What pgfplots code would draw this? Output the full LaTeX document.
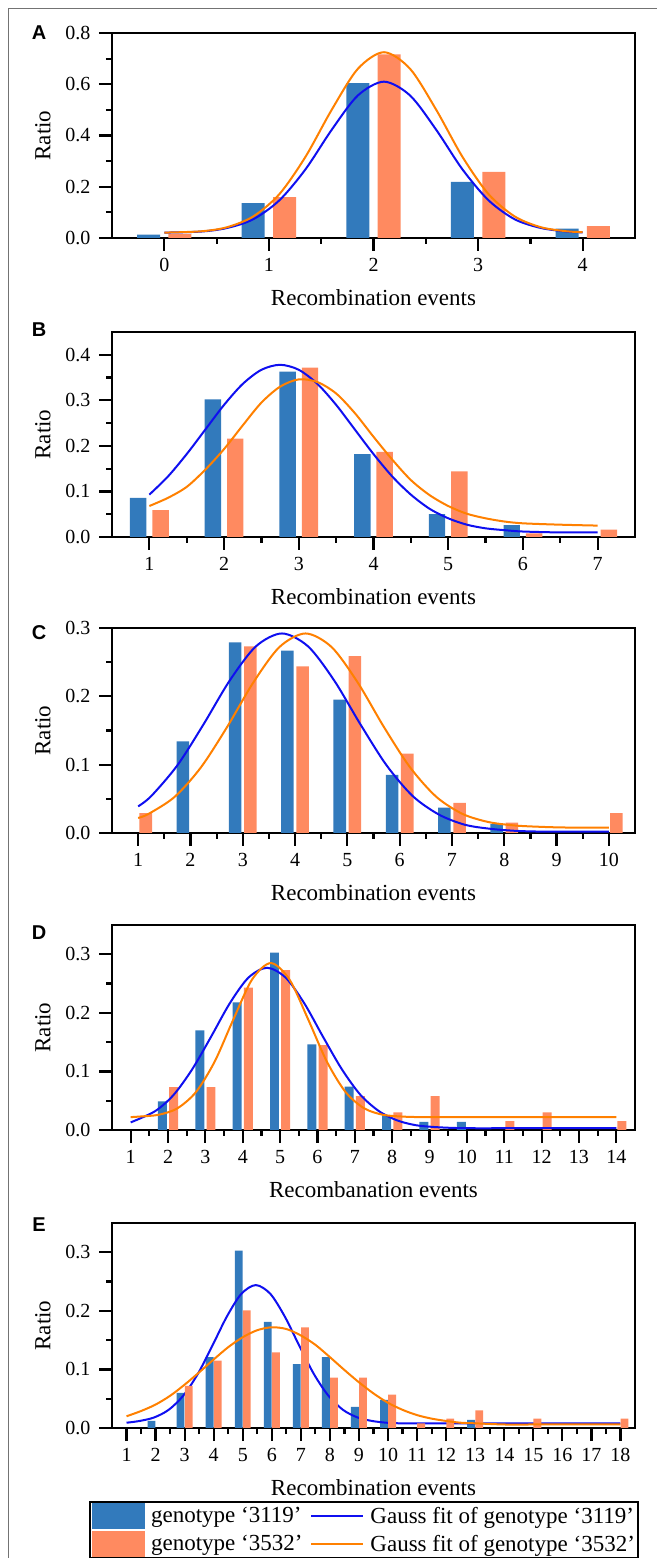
\documentclass[border=0pt]{standalone}
\usepackage{fontspec}
\setmainfont{Liberation Serif}
\newfontfamily\panelfont{Liberation Sans}
\usepackage{pgfplots}
\pgfplotsset{compat=1.18}

\definecolor{barblue}{RGB}{50,122,188}
\definecolor{barorange}{RGB}{255,138,96}
\definecolor{fitblue}{RGB}{15,15,240}
\definecolor{fitorange}{RGB}{255,128,0}

\pgfplotsset{
  panel/.style={
    scale only axis, width=523bp, height=205bp,
    anchor=south west,
    axis line style={line width=2.2bp},
    tick style={line width=2.2bp, black},
    tick align=outside, tick pos=left,
    major tick length=13bp, minor tick length=6bp,
    minor x tick num=1, minor y tick num=1,
    ymin=0,
    /pgf/number format/assume math mode=true,
    tick label style={font=\fontsize{20bp}{22bp}\selectfont},
    xticklabel shift=4bp, yticklabel shift=5bp,
    yticklabel style={/pgf/number format/.cd, fixed, fixed zerofill, precision=1},
    label style={font=\fontsize{23bp}{25bp}\selectfont},
    xlabel={Recombination events}, ylabel={Ratio},
    xlabel style={at={(axis description cs:0.5,-0.29)}, anchor=center},
    ylabel style={at={(axis description cs:-0.132,0.5)}, anchor=center},
  },
  fitline/.style={line width=2bp, smooth, #1},
}
\tikzset{letter/.style={font=\panelfont\bfseries\fontsize{20bp}{20bp}\selectfont}}

\begin{document}
\begin{tikzpicture}
\useasboundingbox (0,0) rectangle (657bp,1558bp);
\draw[black!55, line width=1bp] (8bp,-10bp) -- (8bp,1549bp) -- (670bp,1549bp);

% A
\begin{axis}[panel, at={(112bp,1320bp)},
  xmin=-0.5, xmax=4.5, xtick={0,1,2,3,4},
  ymax=0.8, ytick={0,0.2,0.4,0.6,0.8}]
\addplot[ybar, bar width=0.22, bar shift=-0.15, fill=barblue, draw=none]
  coordinates {(0,0.013) (1,0.136) (2,0.604) (3,0.219) (4,0.037)};
\addplot[ybar, bar width=0.22, bar shift=0.15, fill=barorange, draw=none]
  coordinates {(0,0.016) (1,0.159) (2,0.717) (3,0.258) (4,0.046)};
\addplot[fitline=fitblue] coordinates {
  (0,0.021) (0.35,0.025) (0.6,0.039) (0.85,0.073) (1.1,0.147) (1.35,0.268)
  (1.6,0.422) (1.85,0.556) (2.1,0.610) (2.35,0.556) (2.6,0.422) (2.85,0.268)
  (3.1,0.147) (3.35,0.073) (3.6,0.039) (3.85,0.025) (4,0.022)};
\addplot[fitline=fitorange] coordinates {
  (0,0.021) (0.35,0.026) (0.6,0.042) (0.85,0.084) (1.1,0.171) (1.35,0.317)
  (1.6,0.500) (1.85,0.660) (2.1,0.725) (2.35,0.660) (2.6,0.500) (2.85,0.317)
  (3.1,0.171) (3.35,0.084) (3.6,0.042) (3.85,0.026) (4,0.023)};
\end{axis}

% B
\begin{axis}[panel, at={(112bp,1021bp)},
  xmin=0.5, xmax=7.5, xtick={1,...,7},
  ymax=0.45, ytick={0,0.1,0.2,0.3,0.4}]
\addplot[ybar, bar width=0.22, bar shift=-0.15, fill=barblue, draw=none]
  coordinates {(1,0.086) (2,0.302) (3,0.363) (4,0.182) (5,0.050) (6,0.026)};
\addplot[ybar, bar width=0.22, bar shift=0.15, fill=barorange, draw=none]
  coordinates {(1,0.059) (2,0.216) (3,0.372) (4,0.187) (5,0.144) (6,0.008) (7,0.016)};
\addplot[fitline=fitblue] coordinates {
  (1,0.093) (1.25,0.133) (1.5,0.182) (1.75,0.236) (2,0.290) (2.25,0.336)
  (2.5,0.367) (2.75,0.378) (3,0.367) (3.25,0.336) (3.5,0.290) (3.75,0.236)
  (4,0.182) (4.25,0.133) (4.5,0.093) (4.75,0.062) (5,0.041) (5.25,0.027)
  (5.5,0.019) (5.75,0.015) (6,0.012) (6.5,0.010) (7,0.010)};
\addplot[fitline=fitorange] coordinates {
  (1,0.068) (1.25,0.086) (1.5,0.110) (1.75,0.148) (2,0.193) (2.25,0.245)
  (2.5,0.295) (2.75,0.330) (3,0.346) (3.25,0.340) (3.5,0.315) (3.75,0.272)
  (4,0.220) (4.25,0.170) (4.5,0.125) (4.75,0.092) (5,0.068) (5.25,0.051)
  (5.5,0.041) (5.75,0.034) (6,0.030) (6.5,0.027) (7,0.025)};
\end{axis}

% C
\begin{axis}[panel, at={(112bp,725bp)},
  xmin=0.5, xmax=10.5, xtick={1,...,10},
  ymax=0.3, ytick={0,0.1,0.2,0.3}]
\addplot[ybar, bar width=0.24, bar shift=-0.145, fill=barblue, draw=none]
  coordinates {(2,0.134) (3,0.279) (4,0.267) (5,0.195) (6,0.085) (7,0.037) (8,0.013)};
\addplot[ybar, bar width=0.24, bar shift=0.145, fill=barorange, draw=none]
  coordinates {(1,0.029) (3,0.273) (4,0.244) (5,0.259) (6,0.116) (7,0.044) (8,0.015) (10,0.029)};
\addplot[fitline=fitblue] coordinates {
  (1,0.039) (1.25,0.054) (1.75,0.099) (2.25,0.159) (2.75,0.223) (3.25,0.273)
  (3.75,0.292) (4.25,0.273) (4.75,0.223) (5.25,0.159) (5.75,0.099) (6.25,0.054)
  (6.75,0.027) (7.25,0.012) (7.75,0.006) (8.25,0.003) (8.75,0.002) (9.25,0.002) (10,0.002)};
\addplot[fitline=fitorange] coordinates {
  (1,0.022) (1.2,0.028) (1.7,0.053) (2.2,0.096) (2.7,0.155) (3.2,0.220)
  (3.7,0.272) (4.2,0.292) (4.7,0.272) (5.2,0.220) (5.7,0.155) (6.2,0.096)
  (6.7,0.053) (7.2,0.028) (7.7,0.016) (8.2,0.011) (8.7,0.009) (9.2,0.008) (10,0.008)};
\end{axis}

% D
\begin{axis}[panel, at={(112bp,428bp)},
  xmin=0.5, xmax=14.5, xtick={1,...,14},
  ymax=0.35, ytick={0,0.1,0.2,0.3},
  xlabel={Recombanation events}]
\addplot[ybar, bar width=0.24, bar shift=-0.15, fill=barblue, draw=none]
  coordinates {(2,0.049) (3,0.170) (4,0.218) (5,0.303) (6,0.146) (7,0.074) (8,0.025) (9,0.014) (10,0.014)};
\addplot[ybar, bar width=0.24, bar shift=0.15, fill=barorange, draw=none]
  coordinates {(2,0.073) (3,0.073) (4,0.243) (5,0.273) (6,0.145) (7,0.058) (8,0.030) (9,0.058) (11,0.015) (12,0.030) (14,0.015)};
\addplot[fitline=fitblue] coordinates {
  (1,0.013) (1.65,0.032) (2.15,0.060) (2.65,0.104) (3.15,0.159) (3.65,0.216)
  (4.15,0.260) (4.65,0.277) (5.15,0.260) (5.65,0.216) (6.15,0.159) (6.65,0.104)
  (7.15,0.060) (7.65,0.032) (8.15,0.016) (8.65,0.008) (9.15,0.005) (9.65,0.0035)
  (10.15,0.003) (11,0.003) (12,0.003) (13,0.003) (14,0.003)};
\addplot[fitline=fitorange] coordinates {
  (1,0.022) (1.25,0.023) (1.75,0.026) (2.25,0.037) (2.75,0.065) (3.25,0.117)
  (3.75,0.189) (4.25,0.257) (4.75,0.285) (5.25,0.257) (5.75,0.189) (6.25,0.117)
  (6.75,0.065) (7.25,0.037) (7.75,0.026) (8.25,0.023) (8.75,0.022) (9.5,0.022)
  (10.5,0.022) (11.5,0.022) (12.5,0.022) (14,0.022)};
\end{axis}

% E
\begin{axis}[panel, at={(112bp,130bp)},
  xmin=0.5, xmax=18.5, xtick={1,...,18},
  ymax=0.35, ytick={0,0.1,0.2,0.3},
  legend columns=2,
  legend style={at={(axis description cs:-0.044,-0.356)}, anchor=north west,
    draw=black, line width=2.2bp, inner xsep=2bp, inner ysep=1bp,
    font=\fontsize{23bp}{25bp}\selectfont,
    cells={anchor=west}, row sep=2bp,
    nodes={inner xsep=1bp, inner ysep=0bp},
    /tikz/every odd column/.style={column sep=5bp},
    /tikz/every even column/.style={column sep=7bp}}]
\addplot[ybar, bar width=0.27, bar shift=-0.14, fill=barblue, draw=none,
  legend image code/.code={\fill[barblue] (0bp,-13bp) rectangle (53bp,13bp);}]
  coordinates {(2,0.012) (3,0.060) (4,0.121) (5,0.303) (6,0.181) (7,0.109) (8,0.121) (9,0.036) (10,0.048) (13,0.014)};
\addlegendentry{genotype ‘3119’}
\addplot[fitline=fitblue, legend image code/.code={\draw[fitblue, line width=2bp] (0bp,0bp) -- (52bp,0bp);}] coordinates {
  (1,0.009) (1.45,0.012) (1.95,0.018) (2.45,0.031) (2.95,0.055) (3.45,0.092)
  (3.95,0.140) (4.45,0.190) (4.95,0.229) (5.45,0.244) (5.95,0.229) (6.45,0.190)
  (6.95,0.140) (7.45,0.092) (7.95,0.055) (8.45,0.031) (8.95,0.018) (9.45,0.012)
  (9.95,0.009) (10.45,0.008) (11.5,0.008) (13,0.008) (15,0.008) (18,0.008)};
\addlegendentry{Gauss fit of genotype ‘3119’}
\addplot[ybar, bar width=0.27, bar shift=0.14, fill=barorange, draw=none,
  legend image code/.code={\fill[barorange] (0bp,-13bp) rectangle (53bp,13bp);}]
  coordinates {(3,0.072) (4,0.115) (5,0.201) (6,0.129) (7,0.172) (8,0.086) (9,0.086) (10,0.057) (11,0.008) (12,0.016) (13,0.030) (15,0.016) (18,0.016)};
\addlegendentry{genotype ‘3532’}
\addplot[fitline=fitorange, legend image code/.code={\draw[fitorange, line width=2bp] (0bp,0bp) -- (52bp,0bp);}] coordinates {
  (1,0.020) (1.5,0.029) (2,0.040) (2.5,0.055) (3,0.074) (3.5,0.095)
  (4,0.117) (4.5,0.138) (5,0.155) (5.5,0.167) (6,0.172) (6.5,0.169)
  (7,0.158) (7.5,0.142) (8,0.121) (8.5,0.099) (9,0.078) (9.5,0.059)
  (10,0.043) (10.5,0.031) (11,0.022) (11.5,0.016) (12,0.012) (12.5,0.009)
  (13,0.008) (14,0.006) (15,0.006) (16,0.006) (17,0.006) (18,0.006)};
\addlegendentry{Gauss fit of genotype ‘3532’}
\end{axis}

\node[letter] at (39bp,1525bp) {A};
\node[letter] at (39bp,1228bp) {B};
\node[letter] at (39bp,925bp) {C};
\node[letter] at (39bp,625bp) {D};
\node[letter] at (39bp,333bp) {E};
\end{tikzpicture}
\end{document}
